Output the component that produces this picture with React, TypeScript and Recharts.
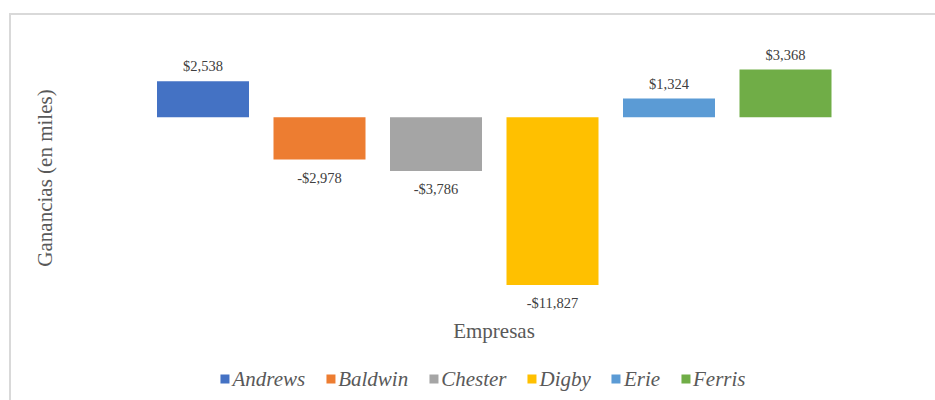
import React from 'react';
import { BarChart, Bar, XAxis, YAxis, Cell, LabelList } from 'recharts';

const companies = ['Andrews', 'Baldwin', 'Chester', 'Digby', 'Erie', 'Ferris'];
const profits = [2538, -2978, -3786, -11827, 1324, 3368];
const colors = ['#4472C4', '#ED7D31', '#A5A5A5', '#FFC000', '#5B9BD5', '#70AD47'];

const data = companies.map((name, i) => ({ name, value: profits[i] }));

const serif = '"Liberation Serif", "Times New Roman", serif';

const fmt = (v: number) => (v < 0 ? '-' : '') + '$' + Math.abs(v).toLocaleString('en-US');

const renderLabel = (props: any) => {
  const { x, y, width, height, value } = props;
  const top = Math.min(y, y + height);
  const bottom = Math.max(y, y + height);
  const cx = x + width / 2;
  const ty = value < 0 ? bottom + 18 : top - 15;
  return (
    <text x={cx} y={ty} textAnchor="middle" dominantBaseline="central" fontFamily={serif} fontSize={14.5} fill="#404040">
      {fmt(value)}
    </text>
  );
};

const App: React.FC = () => {
  return (
    <div style={{ position: 'fixed', left: 0, top: 0, width: 935, height: 400, overflow: 'hidden', background: '#fff' }}>
      <div style={{ position: 'absolute', left: 9, top: 13, width: 960, height: 420, border: '2px solid #D9D9D9' }} />
      <div style={{ position: 'absolute', left: 0, top: 0 }}>
        <BarChart width={935} height={400} data={data} margin={{ top: 60.6, right: 91, bottom: 112.5, left: 145 }} barSize={92}>
          <XAxis dataKey="name" hide />
          <YAxis hide domain={[-12000, 4000]} />
          <Bar dataKey="value" isAnimationActive={false}>
            {data.map((d, i) => (
              <Cell key={d.name} fill={colors[i]} />
            ))}
            <LabelList dataKey="value" content={renderLabel} />
          </Bar>
        </BarChart>
      </div>
      <div
        style={{
          position: 'absolute', left: 45, top: 178, transform: 'translate(-50%, -50%) rotate(-90deg)',
          whiteSpace: 'nowrap', fontFamily: serif, fontSize: 21, color: '#595959',
        }}
      >
        Ganancias (en miles)
      </div>
      <div
        style={{
          position: 'absolute', left: 494, top: 331, transform: 'translate(-50%, -50%)',
          whiteSpace: 'nowrap', fontFamily: serif, fontSize: 21, color: '#595959',
        }}
      >
        Empresas
      </div>
      <div
        style={{
          position: 'absolute', left: 483, top: 379, transform: 'translate(-50%, -50%)',
          display: 'flex', alignItems: 'center', gap: 21, whiteSpace: 'nowrap',
          fontFamily: serif, fontStyle: 'italic', fontSize: 21, color: '#595959',
        }}
      >
        {companies.map((c, i) => (
          <span key={c} style={{ display: 'flex', alignItems: 'center' }}>
            <span style={{ display: 'inline-block', width: 9, height: 9, background: colors[i], marginRight: 3 }} />
            {c}
          </span>
        ))}
      </div>
    </div>
  );
};

export default App;
